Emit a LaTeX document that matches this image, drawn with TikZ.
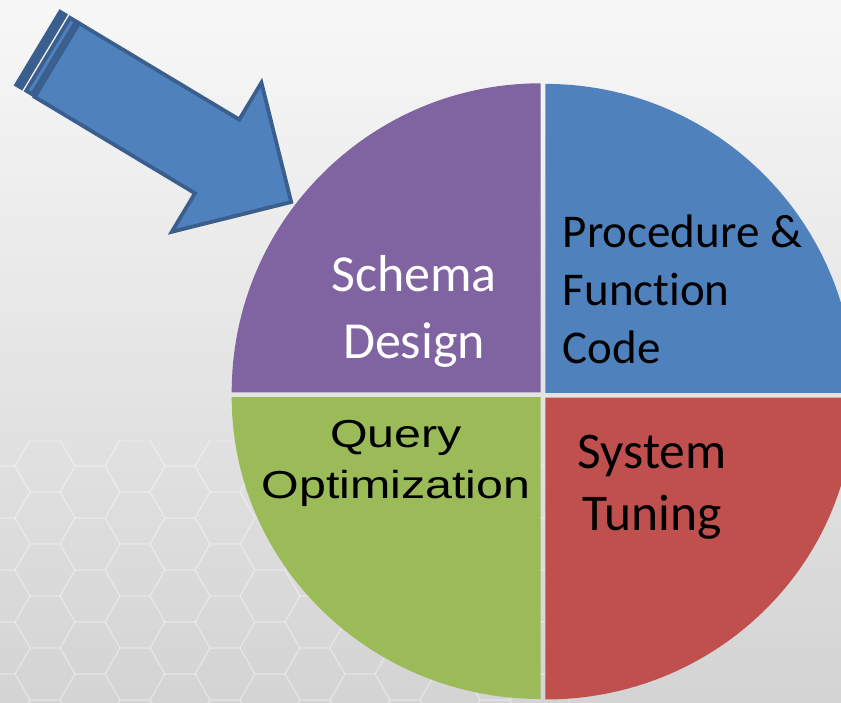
\documentclass[tikz,border=0pt]{standalone}
\usepackage{fontspec}
\setmainfont{Carlito}[Ligatures=NoCommon]
\newfontfamily\arialfont{Liberation Sans}
\usetikzlibrary{positioning}
\definecolor{piepurple}{HTML}{8064A2}
\definecolor{pieblue}{HTML}{4F81BD}
\definecolor{piegreen}{HTML}{9BBB59}
\definecolor{piered}{HTML}{C0504D}
\definecolor{arrowline}{HTML}{3A5F8E}

\begin{document}
\begin{tikzpicture}[x=1pt,y=-1pt,
		hexline/.style={draw=white,line width=1.3pt,opacity=0.22},
		sliceText/.style={inner sep=0pt,anchor=base,align=center},
		arrowPart/.style={fill=pieblue,draw=arrowline,line width=3.8pt,line join=miter}]
		\useasboundingbox (0,0) rectangle (841,703);
		\fill[top color=white!97!black,bottom color=white!83!black] (0,0) rectangle (841,703);
		
		\begin{scope}
		\clip (0,440) rectangle (841,703);
		\foreach \i in {0,...,12}
		\foreach \j in {0,...,6}
		\draw[hexline] ({\i*45},{440+\j*52+mod(\i,2)*26})
		+(0:30) -- +(60:30) -- +(120:30) -- +(180:30) -- +(240:30) -- +(300:30) -- cycle;
		\end{scope}
		
		\fill[piepurple] (540.7,392.3) -- ++(-309,0) arc[start angle=180,end angle=270,radius=309] -- cycle;
		\fill[pieblue]   (545.3,392.9) -- ++(309,0) arc[start angle=0,end angle=-90,radius=309] -- cycle;
		\fill[piegreen]  (540.7,397.0) -- ++(-309,0) arc[start angle=180,end angle=90,x radius=309,y radius=302] -- cycle;
		\fill[piered]    (545.3,397.5) -- ++(309,0) arc[start angle=0,end angle=90,x radius=309,y radius=302] -- cycle;
		
		\begin{scope}[shift={(60,8.3)},x={(0.857pt,-0.515pt)},y={(-0.515pt,-0.857pt)}]
		\fill[arrowline] (0,1) -- (10,1) -- (10,90) -- (0,90) -- cycle;
		\draw[arrowPart] (13.5,3) -- (20.5,3) -- (20.5,88) -- (13.5,88) -- cycle;
		\draw[arrowPart] (24,3) -- (211,3) -- (211,-40) -- (298,47)
		-- (211,134) -- (211,89) -- (24,89) -- cycle;
		\end{scope}
		
		\node[sliceText,text=white,font=\fontsize{52}{66.6}\selectfont] (schema) at (414,358.3) {Schema\\Design};
		\node[sliceText,anchor=base west,align=left,font=\fontsize{47}{58}\selectfont] (procedure) at (562.7,363.3) {Procedure \&\\Function\\Code};
		\node[sliceText,font=\arialfont\fontsize{39}{51}\selectfont,xscale=1.24,transform shape] (query) at (396,498) {Query\\Optimization};
		\node[sliceText,font=\fontsize{51.5}{62}\selectfont] (tuning) at (652,530) {System\\Tuning};
\end{tikzpicture}
\end{document}
